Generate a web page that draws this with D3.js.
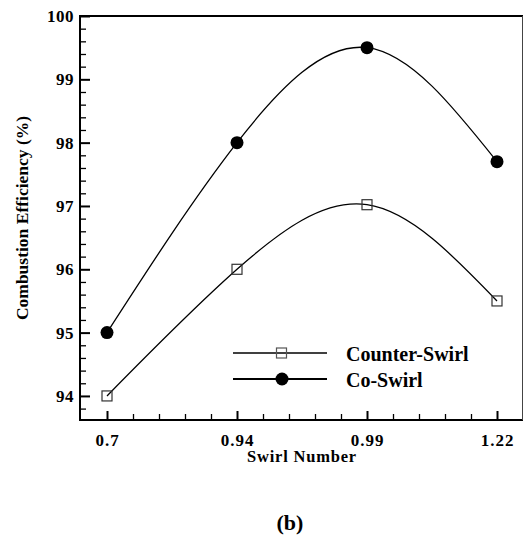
<!DOCTYPE html>
<html lang="en">
<head>
  <meta charset="utf-8">
  <title>Combustion efficiency vs swirl number (b)</title>
  <!-- d3 v7 from the cdn -->
  <script src="https://cdn.jsdelivr.net/npm/d3@7"></script>
  <style>
    body { margin: 0; background: #fff; }
    text { font-family: "Liberation Serif", "Times New Roman", serif; font-weight: bold; fill: #000; }
  </style>
</head>
<body>
  <script>
    /* values */
    var swirlLabels = ["0.7", "0.94", "0.99", "1.22"];
    var counterSwirl = [94, 96, 97.02, 95.5];
    var coSwirl = [95, 98, 99.5, 97.7];
    var yMajorTicks = [94, 95, 96, 97, 98, 99, 100];
    var seriesNames = ["Counter-Swirl", "Co-Swirl"];

    var width = 525, height = 536;

    var svg = d3.select("body")
        .append("svg")
        .attr("width", width)
        .attr("height", height);

    // the swirl numbers are plotted as evenly spaced categories
    var x = d3.scaleLinear()
        .domain([-0.2, 3.2])
        .range([81, 523]);

    var y = d3.scaleLinear()
        .domain([93.62, 100])
        .range([420, 16]);

    /* minor ticks first, then the labelled ones */
    var xMinor = d3.range(1, 16).map(function(i) { return -0.2 + i * 0.2; })
        .filter(function(v) { return Math.abs(v - Math.round(v)) > 0.01; });
    var yMinor = d3.range(93.8, 100, 0.2)
        .filter(function(v) { return Math.abs(v - Math.round(v)) > 0.01; });

    svg.append("g")
        .attr("transform", "translate(0,420)")
        .call(d3.axisBottom(x).tickValues(xMinor).tickSize(-6).tickFormat(""))
        .call(function(g) { g.select(".domain").remove(); })
        .selectAll("line").attr("stroke-width", 1.3);

    var xAxis = svg.append("g")
        .attr("transform", "translate(0,420)")
        .call(d3.axisBottom(x)
            .tickValues([0, 1, 2, 3])
            .tickSize(-9)
            .tickPadding(14)
            .tickFormat(function(d) { return swirlLabels[d]; }));
    xAxis.select(".domain").remove();
    xAxis.selectAll("line").attr("stroke-width", 2);
    xAxis.selectAll("text").attr("font-size", 17).attr("letter-spacing", 1);

    svg.append("g")
        .attr("transform", "translate(80,0)")
        .call(d3.axisLeft(y).tickValues(yMinor).tickSize(-6).tickFormat(""))
        .call(function(g) { g.select(".domain").remove(); })
        .selectAll("line").attr("stroke-width", 1.3);

    var yAxis = svg.append("g")
        .attr("transform", "translate(80,0)")
        .call(d3.axisLeft(y)
            .tickValues(yMajorTicks)
            .tickSize(-10)
            .tickPadding(6)
            .tickFormat(d3.format("d")));
    yAxis.select(".domain").remove();
    yAxis.selectAll("line").attr("stroke-width", 2);
    yAxis.selectAll("text").attr("font-size", 17).attr("letter-spacing", 0.5);

    // frame: heavy left, bottom and top, thin right
    svg.append("line").attr("x1", 80).attr("x2", 80).attr("y1", 15).attr("y2", 421)
        .attr("stroke", "#000").attr("stroke-width", 2);
    svg.append("line").attr("x1", 79).attr("x2", 523).attr("y1", 420).attr("y2", 420)
        .attr("stroke", "#000").attr("stroke-width", 2);
    svg.append("line").attr("x1", 79).attr("x2", 523).attr("y1", 16).attr("y2", 16)
        .attr("stroke", "#000").attr("stroke-width", 2);
    svg.append("line").attr("x1", 522.5).attr("x2", 522.5).attr("y1", 16).attr("y2", 420)
        .attr("stroke", "#444").attr("stroke-width", 1);

    /* spline curves through the points */
    var line = d3.line()
        .x(function(d, i) { return x(i); })
        .y(function(d) { return y(d); })
        .curve(d3.curveNatural);

    svg.append("path")
        .datum(counterSwirl)
        .attr("d", line)
        .attr("fill", "none")
        .attr("stroke", "#000")
        .attr("stroke-width", 1.3);

    svg.append("path")
        .datum(coSwirl)
        .attr("d", line)
        .attr("fill", "none")
        .attr("stroke", "#000")
        .attr("stroke-width", 1.3);

    svg.selectAll(".sq")
        .data(counterSwirl)
        .enter()
        .append("rect")
        .attr("class", "sq")
        .attr("x", function(d, i) { return x(i) - 5; })
        .attr("y", function(d) { return y(d) - 5; })
        .attr("width", 10)
        .attr("height", 10)
        .attr("fill", "#fff")
        .attr("fill-opacity", 0)
        .attr("stroke", "#333")
        .attr("stroke-width", 1.2);

    svg.selectAll(".dot")
        .data(coSwirl)
        .enter()
        .append("circle")
        .attr("class", "dot")
        .attr("cx", function(d, i) { return x(i); })
        .attr("cy", function(d) { return y(d); })
        .attr("r", 6.5)
        .attr("fill", "#000");

    // legend
    var legend = svg.append("g");
    legend.append("line").attr("x1", 233).attr("x2", 327).attr("y1", 353).attr("y2", 353)
        .attr("stroke", "#000").attr("stroke-width", 1.3);
    legend.append("rect").attr("x", 276.5).attr("y", 348).attr("width", 10).attr("height", 10)
        .attr("fill", "none").attr("stroke", "#555").attr("stroke-width", 1.2);
    legend.append("line").attr("x1", 233).attr("x2", 327).attr("y1", 379).attr("y2", 379)
        .attr("stroke", "#000").attr("stroke-width", 2);
    legend.append("circle").attr("cx", 282).attr("cy", 379).attr("r", 6.5).attr("fill", "#000");
    legend.append("text").attr("x", 346).attr("y", 361).attr("font-size", 20).text(seriesNames[0]);
    legend.append("text").attr("x", 346).attr("y", 387).attr("font-size", 20).text(seriesNames[1]);

    /* axis titles and the panel letter */
    svg.append("text")
        .attr("x", 302).attr("y", 462)
        .attr("text-anchor", "middle")
        .attr("font-size", 16.5)
        .attr("letter-spacing", 0.8)
        .text("Swirl Number");

    svg.append("text")
        .attr("transform", "translate(28,218) rotate(-90)")
        .attr("text-anchor", "middle")
        .attr("font-size", 17.5)
        .text("Combustion Efficiency (%)");

    svg.append("text")
        .attr("x", 290).attr("y", 530)
        .attr("text-anchor", "middle")
        .attr("font-size", 22)
        .text("(b)");
  </script>
</body>
</html>
